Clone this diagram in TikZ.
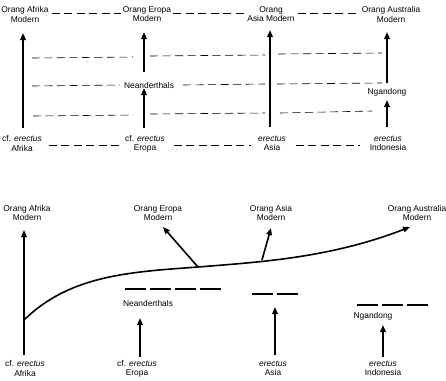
\documentclass[tikz,border=0pt]{standalone}
\usepackage{fontspec}
\setmainfont{Liberation Sans}
\usetikzlibrary{positioning, arrows.meta}

\begin{document}
\begin{tikzpicture}[x=1pt,y=-1pt,
    lbl/.style={font=\fontsize{8.4}{9.2}\selectfont, align=center, inner sep=0pt},
    evo/.style={line width=1.6pt, -{Triangle[length=7pt,width=5.5pt]}},
    link/.style={line width=0.6pt, dash pattern=on 8pt off 4.5pt},
    popbar/.style={line width=2pt, dash pattern=on 21pt off 4pt},
  ]
    \useasboundingbox (0,0) rectangle (446,380);

    % model 1: multiregional
    \node[lbl] (afTop) at (25,14.5) {Orang Afrika\\Modern};
    \node[lbl] (euTop) at (147,14.5) {Orang Eropa\\Modern};
    \node[lbl] (asTop) at (271,14.5) {Orang\\Asia Modern};
    \node[lbl] (auTop) at (391,14.5) {Orang Australia\\Modern};
    \node[lbl] (afBot) at (22,143.5) {cf. \textit{erectus}\\Afrika};
    \node[lbl] (euBot) at (145,143.5) {cf. \textit{erectus}\\Eropa};
    \node[lbl] (asBot) at (272,143.5) {\textit{erectus}\\Asia};
    \node[lbl] (auBot) at (388,143.5) {\textit{erectus}\\Indonesia};
    \node[lbl] (nea) at (149,85) {Neanderthals};
    \node[lbl] (nga) at (387,92) {Ngandong};

    \coordinate (afS) at (23,128);  \coordinate (afE) at (23,33);
    \coordinate (euS) at (144,128); \coordinate (euM) at (144,88);
    \coordinate (euN) at (144,72);  \coordinate (euE) at (144,32);
    \coordinate (asS) at (270,127); \coordinate (asE) at (270,30);
    \coordinate (auS) at (387,127); \coordinate (auM) at (387,100);
    \coordinate (auN) at (387,83);  \coordinate (auE) at (387,32);

    \draw[evo] (afS) -- (afE);
    \draw[evo] (euS) -- (euM);
    \draw[evo] (euN) -- (euE);
    \draw[evo] (asS) -- (asE);
    \draw[evo] (auS) -- (auM);
    \draw[evo] (auN) -- (auE);

    \draw[link] ([xshift=3pt,yshift=1.5pt]afTop.east) -- ([xshift=-2pt,yshift=1.5pt]euTop.west);
    \draw[link] ([xshift=2pt,yshift=1.5pt]euTop.east) -- ([xshift=-1pt,yshift=1.5pt]asTop.west);
    \draw[link] ([xshift=3pt,yshift=1.5pt]asTop.east) -- ([xshift=-3pt,yshift=1.5pt]auTop.west);
    \draw[link] ([xshift=7pt,yshift=-1.5pt]afBot.east) -- ([xshift=-5pt,yshift=-1.5pt]euBot.west);
    \draw[link] ([xshift=9pt,yshift=-1.5pt]euBot.east) -- ([xshift=-7pt,yshift=-1.5pt]asBot.west);
    \draw[link] ([xshift=10pt,yshift=-1.5pt]asBot.east) -- ([xshift=-10pt,yshift=-1.5pt]auBot.west);

    % gene flow between regions
    \draw[link] (32,58) -- (133,57);
    \draw[link] (150,56) -- (265,55);
    \draw[link] (278,54) -- (382,53);
    \draw[link] (32,86) -- ([xshift=-4pt]nea.west);
    \draw[link] ([xshift=9pt]nea.east) -- (265,84);
    \draw[link] (277,84) -- (382,83);
    \draw[link] (33,116) -- (133,115);
    \draw[link] (150,114) -- (265,113);
    \draw[link] (280,113) -- (372,111);

    % model 2: out of Africa
    \node[lbl] (afTop2) at (27,213) {Orang Afrika\\Modern};
    \node[lbl] (euTop2) at (158,213) {Orang Eropa\\Modern};
    \node[lbl] (asTop2) at (271,213) {Orang Asia\\Modern};
    \node[lbl] (auTop2) at (417,213) {Orang Australia\\Modern};
    \node[lbl] (afBot2) at (25,368.5) {cf. \textit{erectus}\\Afrika};
    \node[lbl] (euBot2) at (137,368.5) {cf. \textit{erectus}\\Eropa};
    \node[lbl] (asBot2) at (273,368.5) {\textit{erectus}\\Asia};
    \node[lbl] (auBot2) at (383,368.5) {\textit{erectus}\\Indonesia};
    \node[lbl] (nea2) at (148,303) {Neanderthals};
    \node[lbl] (nga2) at (373,316) {Ngandong};

    \coordinate (afS2) at (24,355); \coordinate (afE2) at (24,230);
    \coordinate (split) at (24,320);
    \coordinate (euFork) at (198,267); \coordinate (euE2) at (163,227);
    \coordinate (asFork) at (262,260); \coordinate (asE2) at (271,228);
    \coordinate (auE2) at (410,227);

    \draw[evo] (afS2) -- (afE2);
    \draw[evo] (split) .. controls (70,275) and (130,272) .. (euFork)
      .. controls (260,262) and (330,258) .. (auE2);
    \draw[evo] (euFork) -- (euE2);
    \draw[evo] (asFork) -- (asE2);
    \draw[evo] (140,357) -- (140,318);
    \draw[evo] (275,355) -- (275,307);
    \draw[evo] (383,357) -- (383,325);

    \draw[popbar] (125,289) -- (221,289);
    \draw[popbar] (252,294) -- (298,294);
    \draw[popbar] (357,305) -- (431,305);
\end{tikzpicture}
\end{document}
